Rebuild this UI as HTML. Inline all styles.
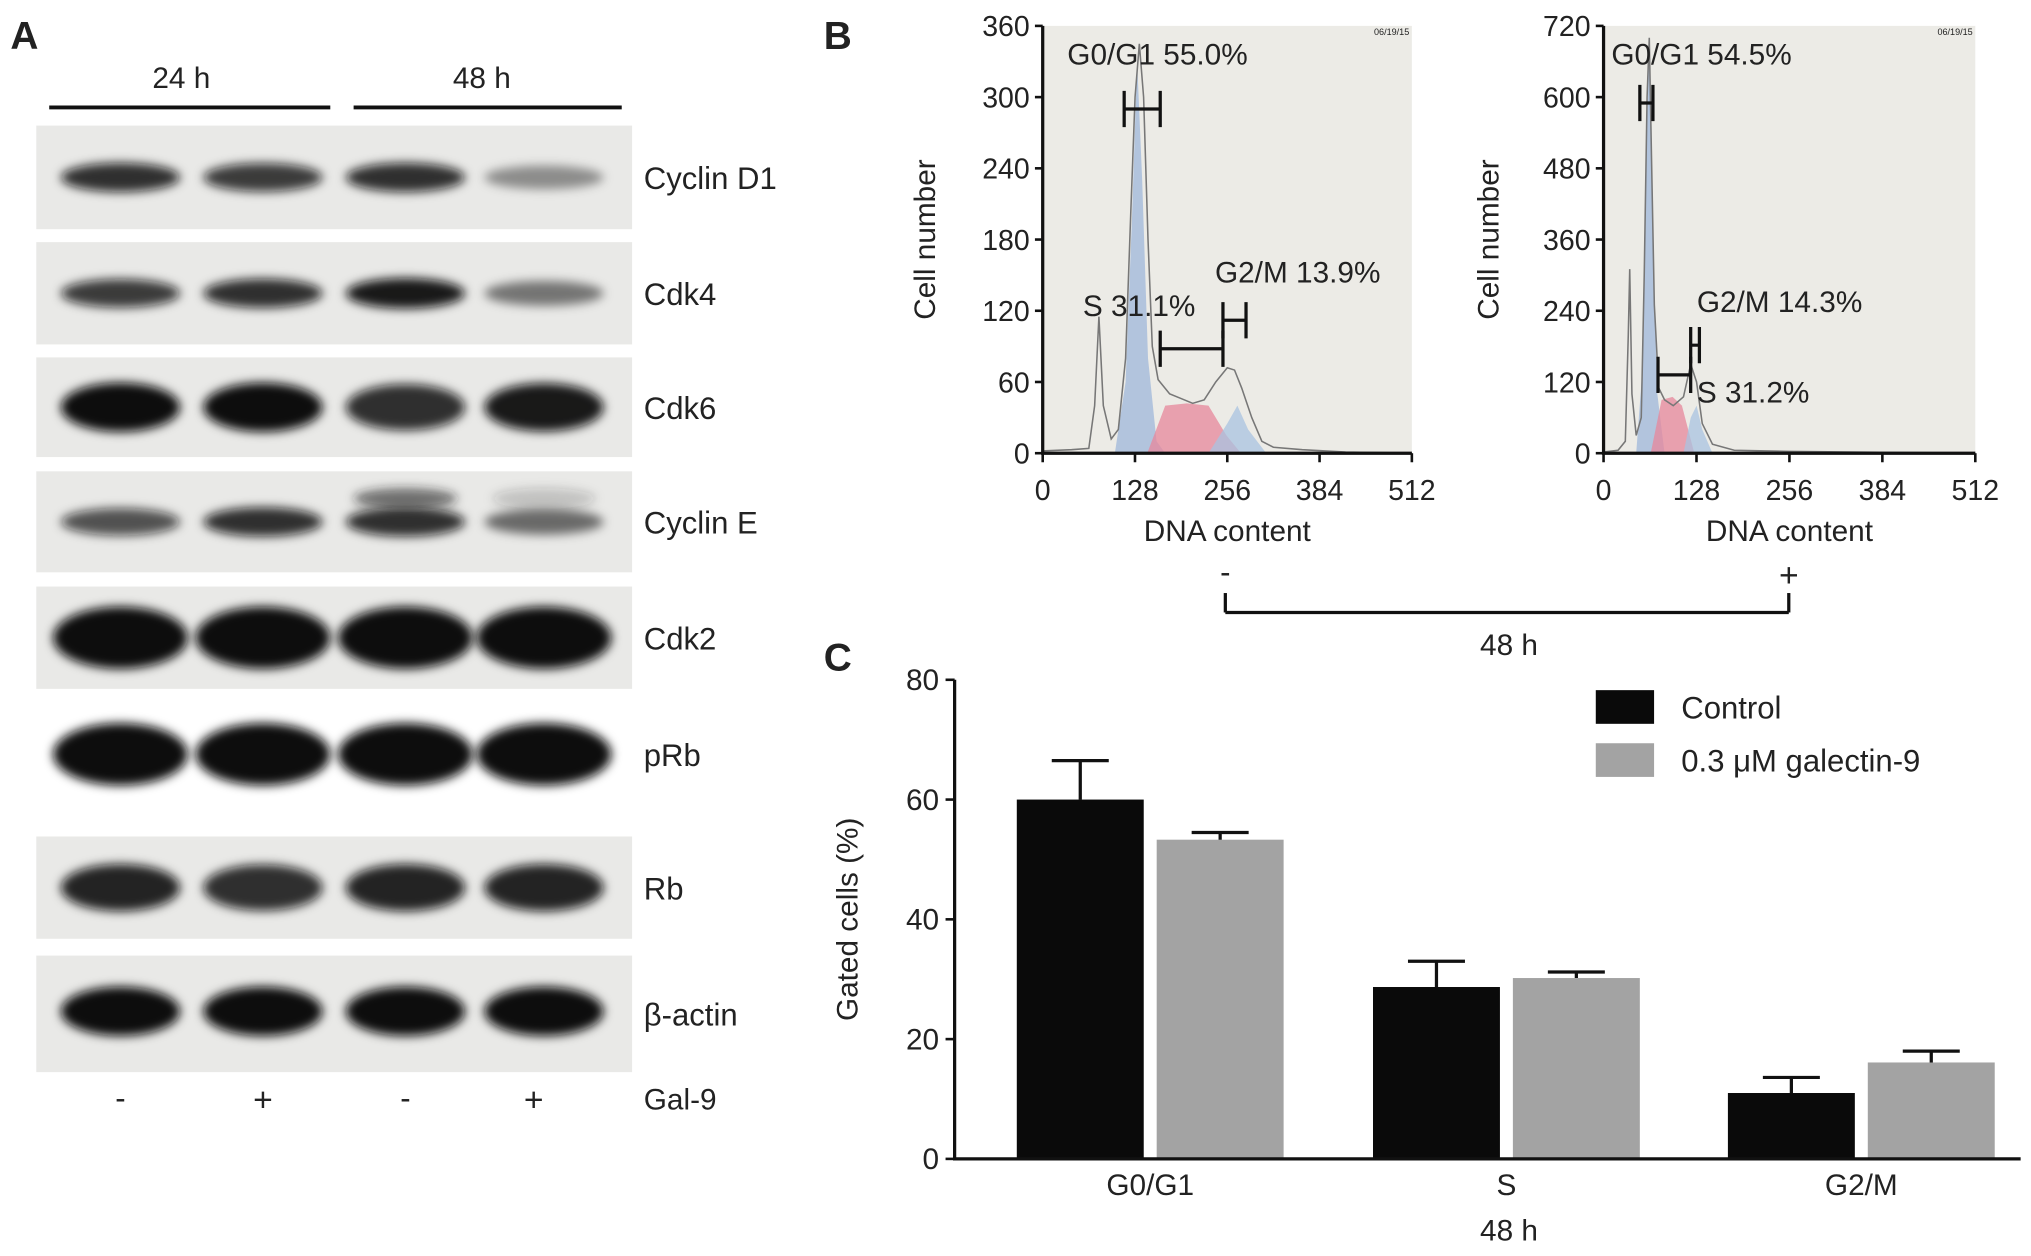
<!DOCTYPE html>
<html><head><meta charset="utf-8"><style>
html,body{margin:0;padding:0;background:#fff}
svg{display:block}
text{font-family:"Liberation Sans",sans-serif;fill:#222}
</style></head><body>
<svg id="fig" width="2031" height="1256" viewBox="0 0 1568 970" preserveAspectRatio="none" xmlns="http://www.w3.org/2000/svg">
<defs>
<filter id="blur" x="-20%" y="-50%" width="140%" height="200%"><feGaussianBlur stdDeviation="4"/></filter>
</defs>
<g id="panelA">
<text x="8" y="38" font-size="30" font-weight="bold">A</text>
<text x="140" y="68" font-size="23" text-anchor="middle">24 h</text>
<line x1="38" y1="83" x2="255" y2="83" stroke="#111" stroke-width="3"/>
<text x="372" y="68" font-size="23" text-anchor="middle">48 h</text>
<line x1="273" y1="83" x2="480" y2="83" stroke="#111" stroke-width="3"/>
<g id="blots"></g>
<text x="93" y="856" font-size="24" text-anchor="middle">-</text>
<text x="203" y="858" font-size="26" text-anchor="middle">+</text>
<text x="313" y="856" font-size="24" text-anchor="middle">-</text>
<text x="412" y="858" font-size="26" text-anchor="middle">+</text>
<text x="497" y="857" font-size="23">Gal-9</text>
</g>
<g id="panelB">
<text x="636" y="38" font-size="30" font-weight="bold">B</text>
<g id="histL"></g><g id="histR"></g>
<line x1="946" y1="458" x2="946" y2="473" stroke="#111" stroke-width="2.5"/>
<line x1="946" y1="473" x2="1381" y2="473" stroke="#111" stroke-width="2.5"/>
<line x1="1381" y1="458" x2="1381" y2="473" stroke="#111" stroke-width="2.5"/>
<text x="946" y="450" font-size="24" text-anchor="middle">-</text>
<text x="1381" y="453" font-size="26" text-anchor="middle">+</text>
<text x="1165" y="506" font-size="23" text-anchor="middle">48 h</text>
</g>
<g id="panelC">
<text x="636" y="518" font-size="30" font-weight="bold">C</text>
<g id="barChart"></g>
</g>
</svg>
<script>
// ---------- Panel C data ----------
const phases = ["G0/G1","S","G2/M"];
const controlVals = [60.0, 28.7, 11.0];
const controlErr = [6.5, 4.3, 2.6];
const galVals = [53.3, 30.2, 16.1];
const galErr = [1.2, 1.0, 1.9];
const yTicks = [0,20,40,60,80];
const seriesNames = ["Control","0.3 \u03bcM galectin-9"];

// ---------- Panel B data ----------
const xTicksB = [0,128,256,384,512];
const yTicksL = [0,60,120,180,240,300,360];
const yTicksR = [0,120,240,360,480,600,720];
const outlineL = [[0,2],[40,3],[64,4],[72,40],[78,115],[84,40],[95,12],[105,20],[115,80],[122,200],[128,300],[134,345],[140,300],[146,180],[152,90],[160,62],[176,50],[192,46],[208,42],[224,45],[240,60],[256,72],[266,70],[276,55],[290,30],[304,10],[320,5],[360,3],[420,1],[512,0]];
const g1L = [[100,0],[115,60],[124,200],[131,330],[138,230],[146,80],[158,10],[170,0]];
const sL = [[145,0],[170,40],[200,42],[230,40],[255,15],[275,0]];
const g2L = [[230,0],[256,25],[270,40],[285,20],[310,0]];
const outlineR = [[0,2],[20,5],[30,20],[34,200],[36,310],[39,100],[45,30],[52,60],[56,300],[60,600],[63,700],[66,500],[70,250],[76,110],[84,90],[96,80],[110,95],[120,150],[128,120],[136,50],[150,15],[180,5],[256,3],[512,0]];
const g1R = [[45,0],[54,150],[60,550],[63,690],[67,400],[74,100],[84,0]];
const sR = [[65,0],[80,90],[95,95],[108,80],[125,0]];
const g2R = [[110,0],[120,60],[128,80],[136,40],[150,0]];

// ---------- Panel A data ----------
const proteins = ["Cyclin D1","Cdk4","Cdk6","Cyclin E","Cdk2","pRb","Rb","\u03b2-actin"];
const bandIntensity = [[0.85,0.8,0.85,0.4],[0.8,0.85,0.95,0.5],[1,1,0.85,0.95],[0.7,0.85,0.85,0.55],[1,1,1,1],[1,1,1,1],[0.9,0.85,0.9,0.9],[1,1,1,1]];

const NS="http://www.w3.org/2000/svg";
function mk(tag,attrs,parent){const e=document.createElementNS(NS,tag);for(const k in attrs)e.setAttribute(k,attrs[k]);parent.appendChild(e);return e;}

// ---- Blots ----
(function(){
 const g=document.getElementById('blots');
 const tops=[97,187,276,364,453,545,646,738];
 const hs=[80,79,77,78,79,75,79,90];
 const lanes=[93,203,313,420];
 proteins.forEach((p,i)=>{
  const bg=i===5?'#ffffff':'#e9e9e7';
  const r=mk('rect',{x:28,y:tops[i],width:460,height:hs[i],fill:bg},g);
  
  
  const cy=tops[i]+hs[i]/2+(i===7?-2:0);
  lanes.forEach((lx,j)=>{
   const v=bandIntensity[i][j];
   const ry=(i===4||i===5)?24:(i===2||i===6||i===7)?19:12;
   const rx=(i===4||i===5)?52:46;
   const e=mk('ellipse',{cx:lx,cy:cy,rx:rx,ry:ry*(0.6+0.4*v),fill:'#0b0b0b','fill-opacity':v,filter:'url(#blur)'},g);
   
   
  });
  if(i===3){lanes.slice(2).forEach((lx,j)=>{const e=mk('ellipse',{cx:lx,cy:cy-18,rx:40,ry:8,fill:'#222','fill-opacity':j?0.2:0.6,filter:'url(#blur)'},g);});}
  const t=mk('text',{x:497,y:tops[i]+hs[i]/2+9,'font-size':24},g);t.textContent=p;
  
  
 });
})();

// ---- Histograms ----
function hist(gid,x0,x1,yTicks,outline,g1,s,g2,ylabX,ann,gates,stampX){
 const g=document.getElementById(gid);
 const y0=350,y1=20,ymax=yTicks[yTicks.length-1];
 const X=v=>x0+(x1-x0)*v/512, Y=v=>y0-(y0-y1)*v/ymax;
 const bg=mk('rect',{x:x0,y:y1,width:x1-x0,height:y0-y1,fill:'#ecebe6'},g);
 
 
 const st=mk('text',{x:stampX,y:27,'font-size':7,'text-anchor':'end',fill:'#777'},g);st.textContent='06/19/15';
 
 
 const poly=(pts,fill,name)=>{const d='M'+pts.map(p=>X(p[0]).toFixed(1)+','+Y(p[1]).toFixed(1)).join('L')+'Z';const e=mk('path',{d:d,fill:fill,'fill-opacity':0.75},g);};
 poly(g1,'#9fb7d9','g1-fill');poly(s,'#e7879b','s-fill');poly(g2,'#a9c3e0','g2m-fill');
 const d='M'+outline.map(p=>X(p[0]).toFixed(1)+','+Y(p[1]).toFixed(1)).join('L');
 const o=mk('path',{d:d,fill:'none',stroke:'#777','stroke-width':1.2},g);
 
 
 const ax=mk('path',{d:`M${x0},${y1}V${y0}H${x1}`,fill:'none',stroke:'#111','stroke-width':2.5},g);
 
 
 yTicks.forEach(v=>{mk('line',{x1:x0-6,x2:x0,y1:Y(v),y2:Y(v),stroke:'#111','stroke-width':2},g);const t=mk('text',{x:x0-10,y:Y(v)+8,'font-size':22,'text-anchor':'end'},g);t.textContent=v;});
 xTicksB.forEach(v=>{mk('line',{x1:X(v),x2:X(v),y1:y0,y2:y0+7,stroke:'#111','stroke-width':2},g);const t=mk('text',{x:X(v),y:386,'font-size':22,'text-anchor':'middle'},g);t.textContent=v;});
 const xt=mk('text',{x:(x0+x1)/2,y:418,'font-size':23,'text-anchor':'middle'},g);xt.textContent='DNA content';
 
 
 const yt=mk('text',{x:0,y:0,'font-size':23,'text-anchor':'middle',transform:`translate(${ylabX},185) rotate(-90)`},g);yt.textContent='Cell number';
 
 
 ann.forEach(a=>{const t=mk('text',{x:a[1],y:a[2],'font-size':23},g);t.textContent=a[0];});
 gates.forEach(gt=>{const [a,b,yv]=gt;const yy=Y(yv);const p=mk('path',{d:`M${X(a)},${yy-14}V${yy+14}M${X(a)},${yy}H${X(b)}M${X(b)},${yy-14}V${yy+14}`,stroke:'#111','stroke-width':2.5,fill:'none'},g);});
}
hist('histL',805,1090,yTicksL,outlineL,g1L,sL,g2L,722,[["G0/G1 55.0%",824,50],["G2/M 13.9%",938,218],["S 31.1%",836,244]],[[113,163,290],[250,282,112],[163,250,88]],1088);
hist('histR',1238,1525,yTicksR,outlineR,g1R,sR,g2R,1157,[["G0/G1 54.5%",1244,50],["G2/M 14.3%",1310,241],["S 31.2%",1310,311]],[[50,68,590],[120,132,182],[75,120,132]],1523);

// ---- Bar chart ----
(function(){
 const g=document.getElementById('barChart');
 const x0=737,x1=1560,y0=895,y1=525;
 const Y=v=>y0-(y0-y1)*v/80;
 const groupStart=[785,1060,1334], bw=98, gap=10;
 phases.forEach((p,i)=>{
  [[controlVals,controlErr,'#0a0a0a'],[galVals,galErr,'#a3a3a3']].forEach((s,k)=>{
   const bx=groupStart[i]+k*(bw+gap), v=s[0][i], e=s[1][i];
   const r=mk('rect',{x:bx,y:Y(v),width:bw,height:Y(0)-Y(v),fill:s[2]},g);
   
   
   const cx=bx+bw/2;
   const eb=mk('path',{d:`M${cx},${Y(v)}V${Y(v+e)}M${cx-22},${Y(v+e)}H${cx+22}`,stroke:'#111','stroke-width':2.5,fill:'none'},g);
   
   
  });
  const t=mk('text',{x:groupStart[i]+bw+gap/2,y:923,'font-size':23,'text-anchor':'middle'},g);t.textContent=p;
  
  
 });
 const ax=mk('path',{d:`M${x0},${y1}V${y0}H${x1}`,fill:'none',stroke:'#111','stroke-width':2.5},g);
 
 
 yTicks.forEach(v=>{mk('line',{x1:x0-7,x2:x0,y1:Y(v),y2:Y(v),stroke:'#111','stroke-width':2},g);const t=mk('text',{x:x0-12,y:Y(v)+8,'font-size':23,'text-anchor':'end'},g);t.textContent=v;});
 const yt=mk('text',{x:0,y:0,'font-size':23,'text-anchor':'middle',transform:'translate(662,710) rotate(-90)'},g);yt.textContent='Gated cells (%)';
 
 
 const xt=mk('text',{x:1165,y:958,'font-size':23,'text-anchor':'middle'},g);xt.textContent='48 h';
 
 
 ['#0a0a0a','#a3a3a3'].forEach((c,k)=>{
  const r=mk('rect',{x:1232,y:533+k*41,width:45,height:26,fill:c},g);
  
  
  const t=mk('text',{x:1298,y:555+k*41,'font-size':24},g);t.textContent=seriesNames[k];
  
  
 });
})();
</script>
</body></html>
